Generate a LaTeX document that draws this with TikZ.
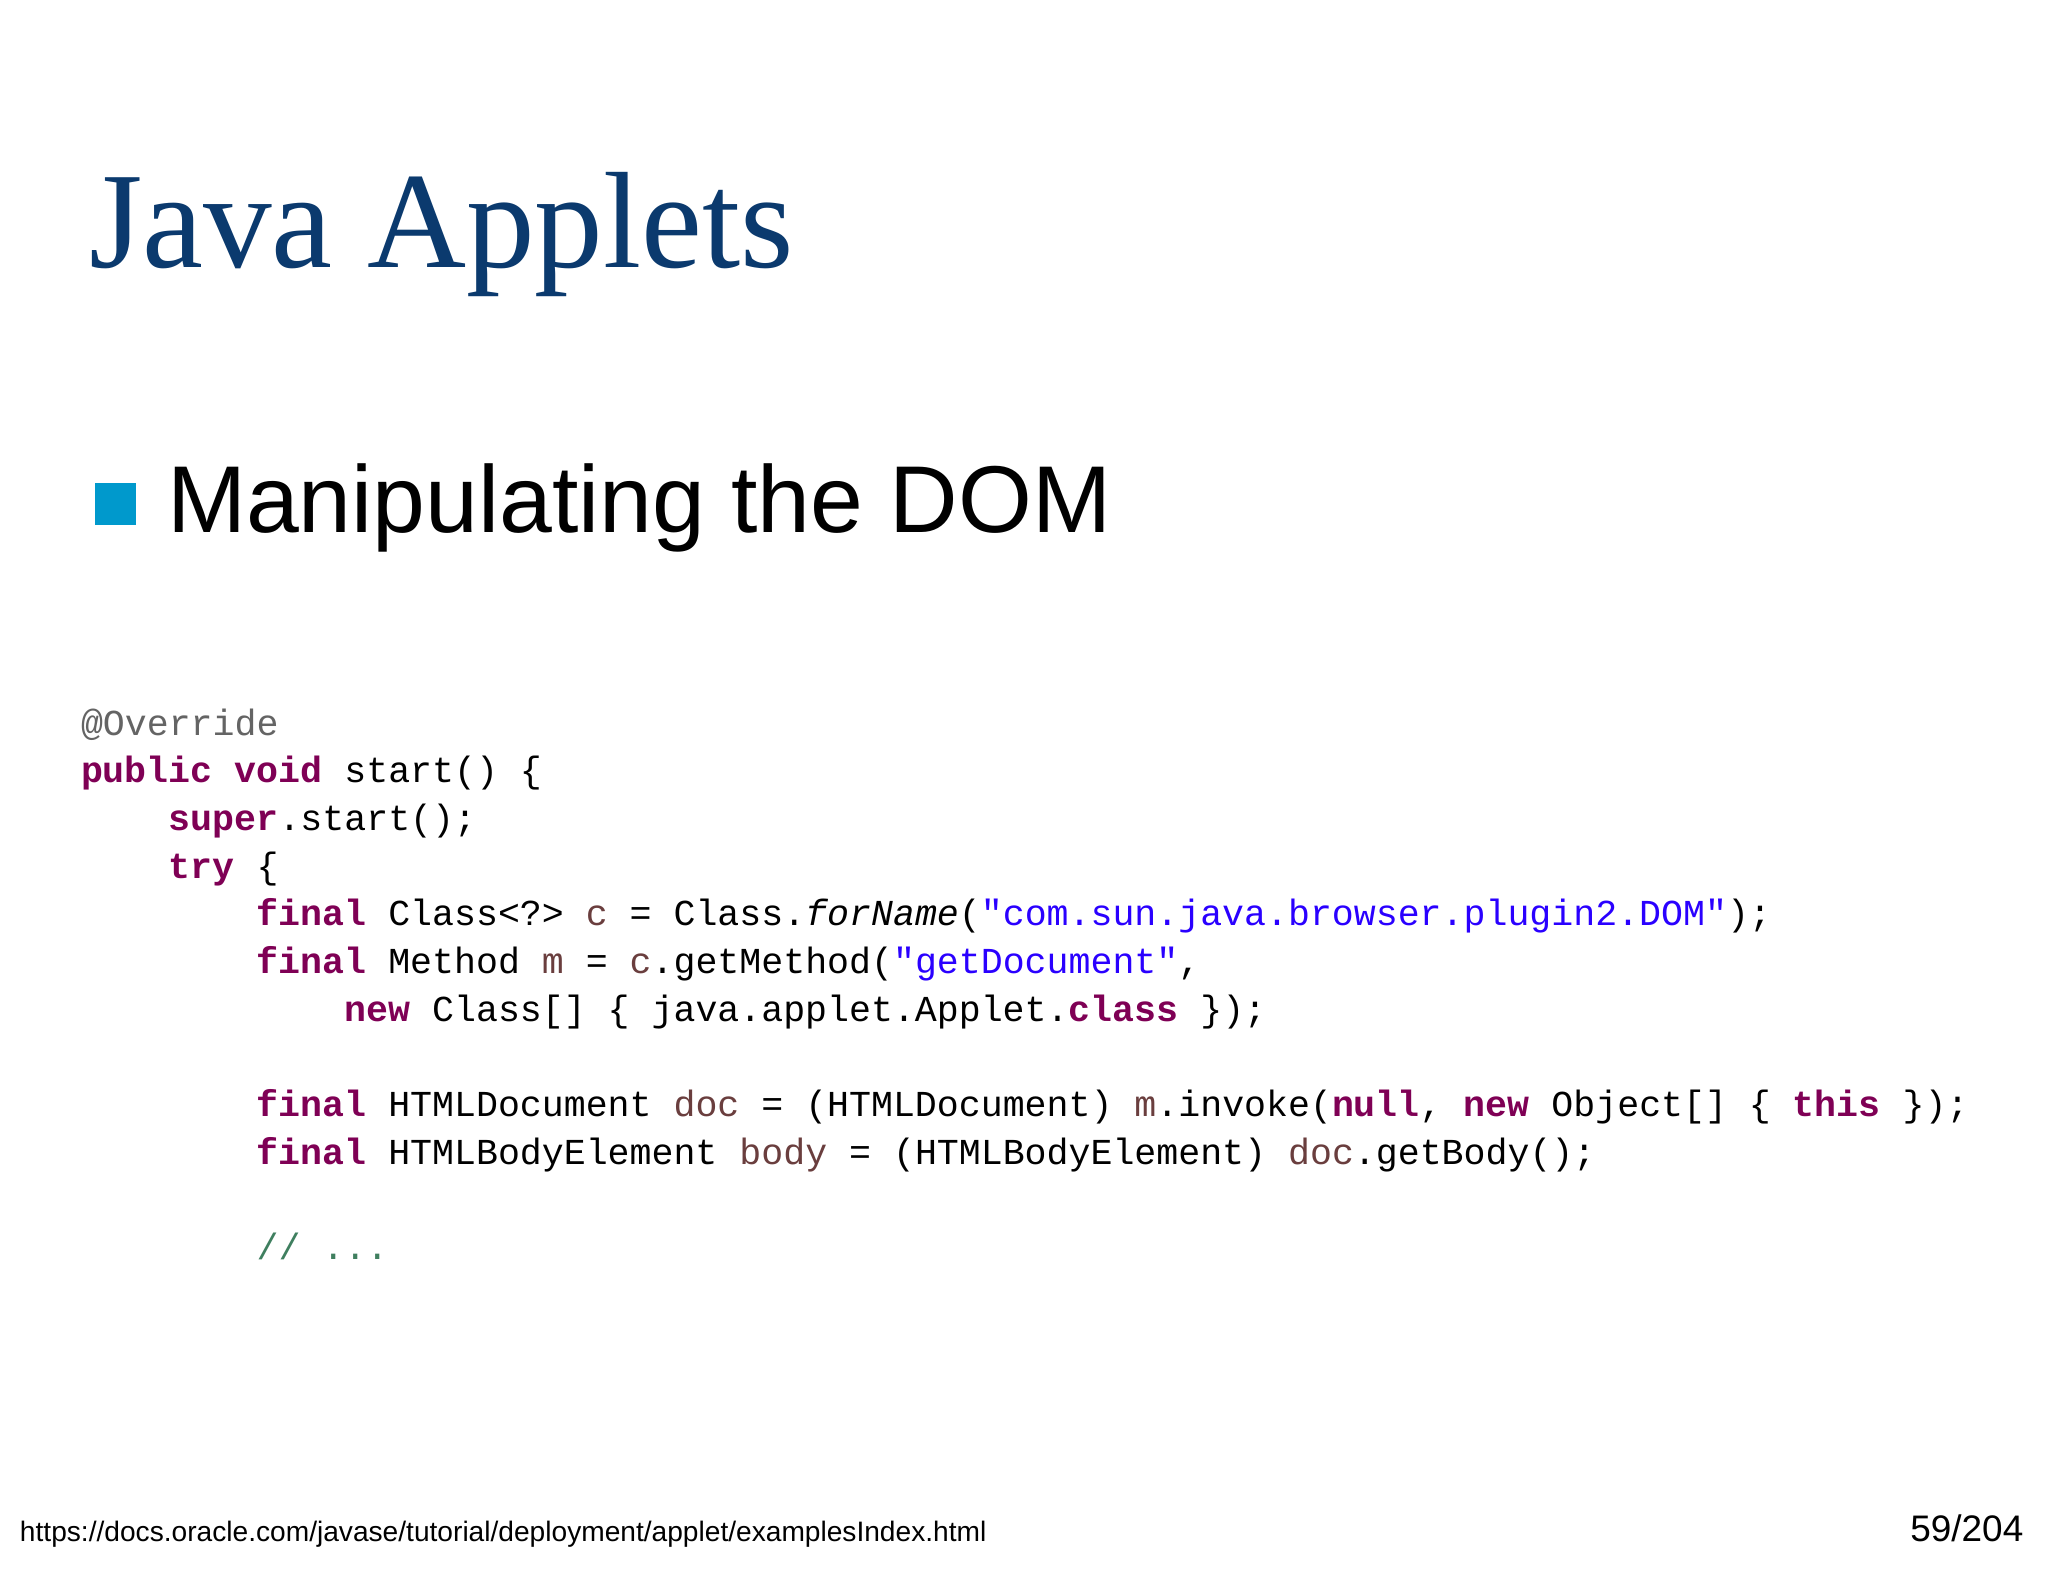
\documentclass[tikz,border=0pt]{standalone}
\usepackage{fontspec}
\setmainfont{Liberation Serif}
\setsansfont{Liberation Sans}
\setmonofont{Liberation Mono}
\definecolor{titleblue}{HTML}{0B3A6E}
\definecolor{bulletblue}{HTML}{0099CC}
\definecolor{kw}{HTML}{7F0055}
\definecolor{str}{HTML}{2A00FF}
\definecolor{var}{HTML}{6A3E3E}
\definecolor{cmt}{HTML}{3F7F5F}
\definecolor{ann}{HTML}{646464}
\newcommand\kw[1]{\textcolor{kw}{\bfseries #1}}
\newcommand\st[1]{\textcolor{str}{#1}}
\newcommand\vr[1]{\textcolor{var}{#1}}
\tikzset{
  txt/.style={anchor=base west, inner sep=0pt, outer sep=0pt},
  code/.style={txt, font=\ttfamily\fontsize{10.4pt}{12pt}\selectfont, text=black}
}
\begin{document}
\begin{tikzpicture}[x=0.01cm,y=-0.01cm]
\useasboundingbox[fill=white] (0,0) rectangle (2048,1582);
\node[txt, text=titleblue, font=\fontsize{39pt}{44pt}\selectfont] (title) at (89,268) {Java Applets};
\fill[bulletblue] (95,483) rectangle (136,525);
\node[txt, font=\sffamily\fontsize{27pt}{32pt}\selectfont] (bullet) at (167,532) {Manipulating the DOM};
\def\cx{81}\def\ci{87.8}\def\lh{47.7}
\node[code, text=ann] (l1) at (\cx,735) {@Override};
\node[code] (l2) at (\cx,735+\lh) {\kw{public} \kw{void} start() \{};
\node[code] (l3) at (\cx+\ci,735+2*\lh) {\kw{super}.start();};
\node[code] (l4) at (\cx+\ci,735+3*\lh) {\kw{try} \{};
\node[code] (l5) at (\cx+2*\ci,735+4*\lh) {\kw{final} Class<?> \vr{c} = Class.\textit{forName}(\st{"com.sun.java.browser.plugin2.DOM"});};
\node[code] (l6) at (\cx+2*\ci,735+5*\lh) {\kw{final} Method \vr{m} = \vr{c}.getMethod(\st{"getDocument"},};
\node[code] (l7) at (\cx+3*\ci,735+6*\lh) {\kw{new} Class[] \{ java.applet.Applet.\kw{class} \});};
\node[code] (l8) at (\cx+2*\ci,735+8*\lh) {\kw{final} HTMLDocument \vr{doc} = (HTMLDocument) \vr{m}.invoke(\kw{null}, \kw{new} Object[] \{ \kw{this} \});};
\node[code] (l9) at (\cx+2*\ci,735+9*\lh) {\kw{final} HTMLBodyElement \vr{body} = (HTMLBodyElement) \vr{doc}.getBody();};
\node[code, text=cmt] (l10) at (\cx+2*\ci,735+11*\lh) {// ...};
\node[txt, font=\sffamily\fontsize{8pt}{10pt}\selectfont] (url) at (20,1541) {https://docs.oracle.com/javase/tutorial/deployment/applet/examplesIndex.html};
\node[anchor=base east, inner sep=0pt, font=\sffamily\fontsize{10.5pt}{12pt}\selectfont] (page) at (2024,1541) {59/204};
\end{tikzpicture}
\end{document}
